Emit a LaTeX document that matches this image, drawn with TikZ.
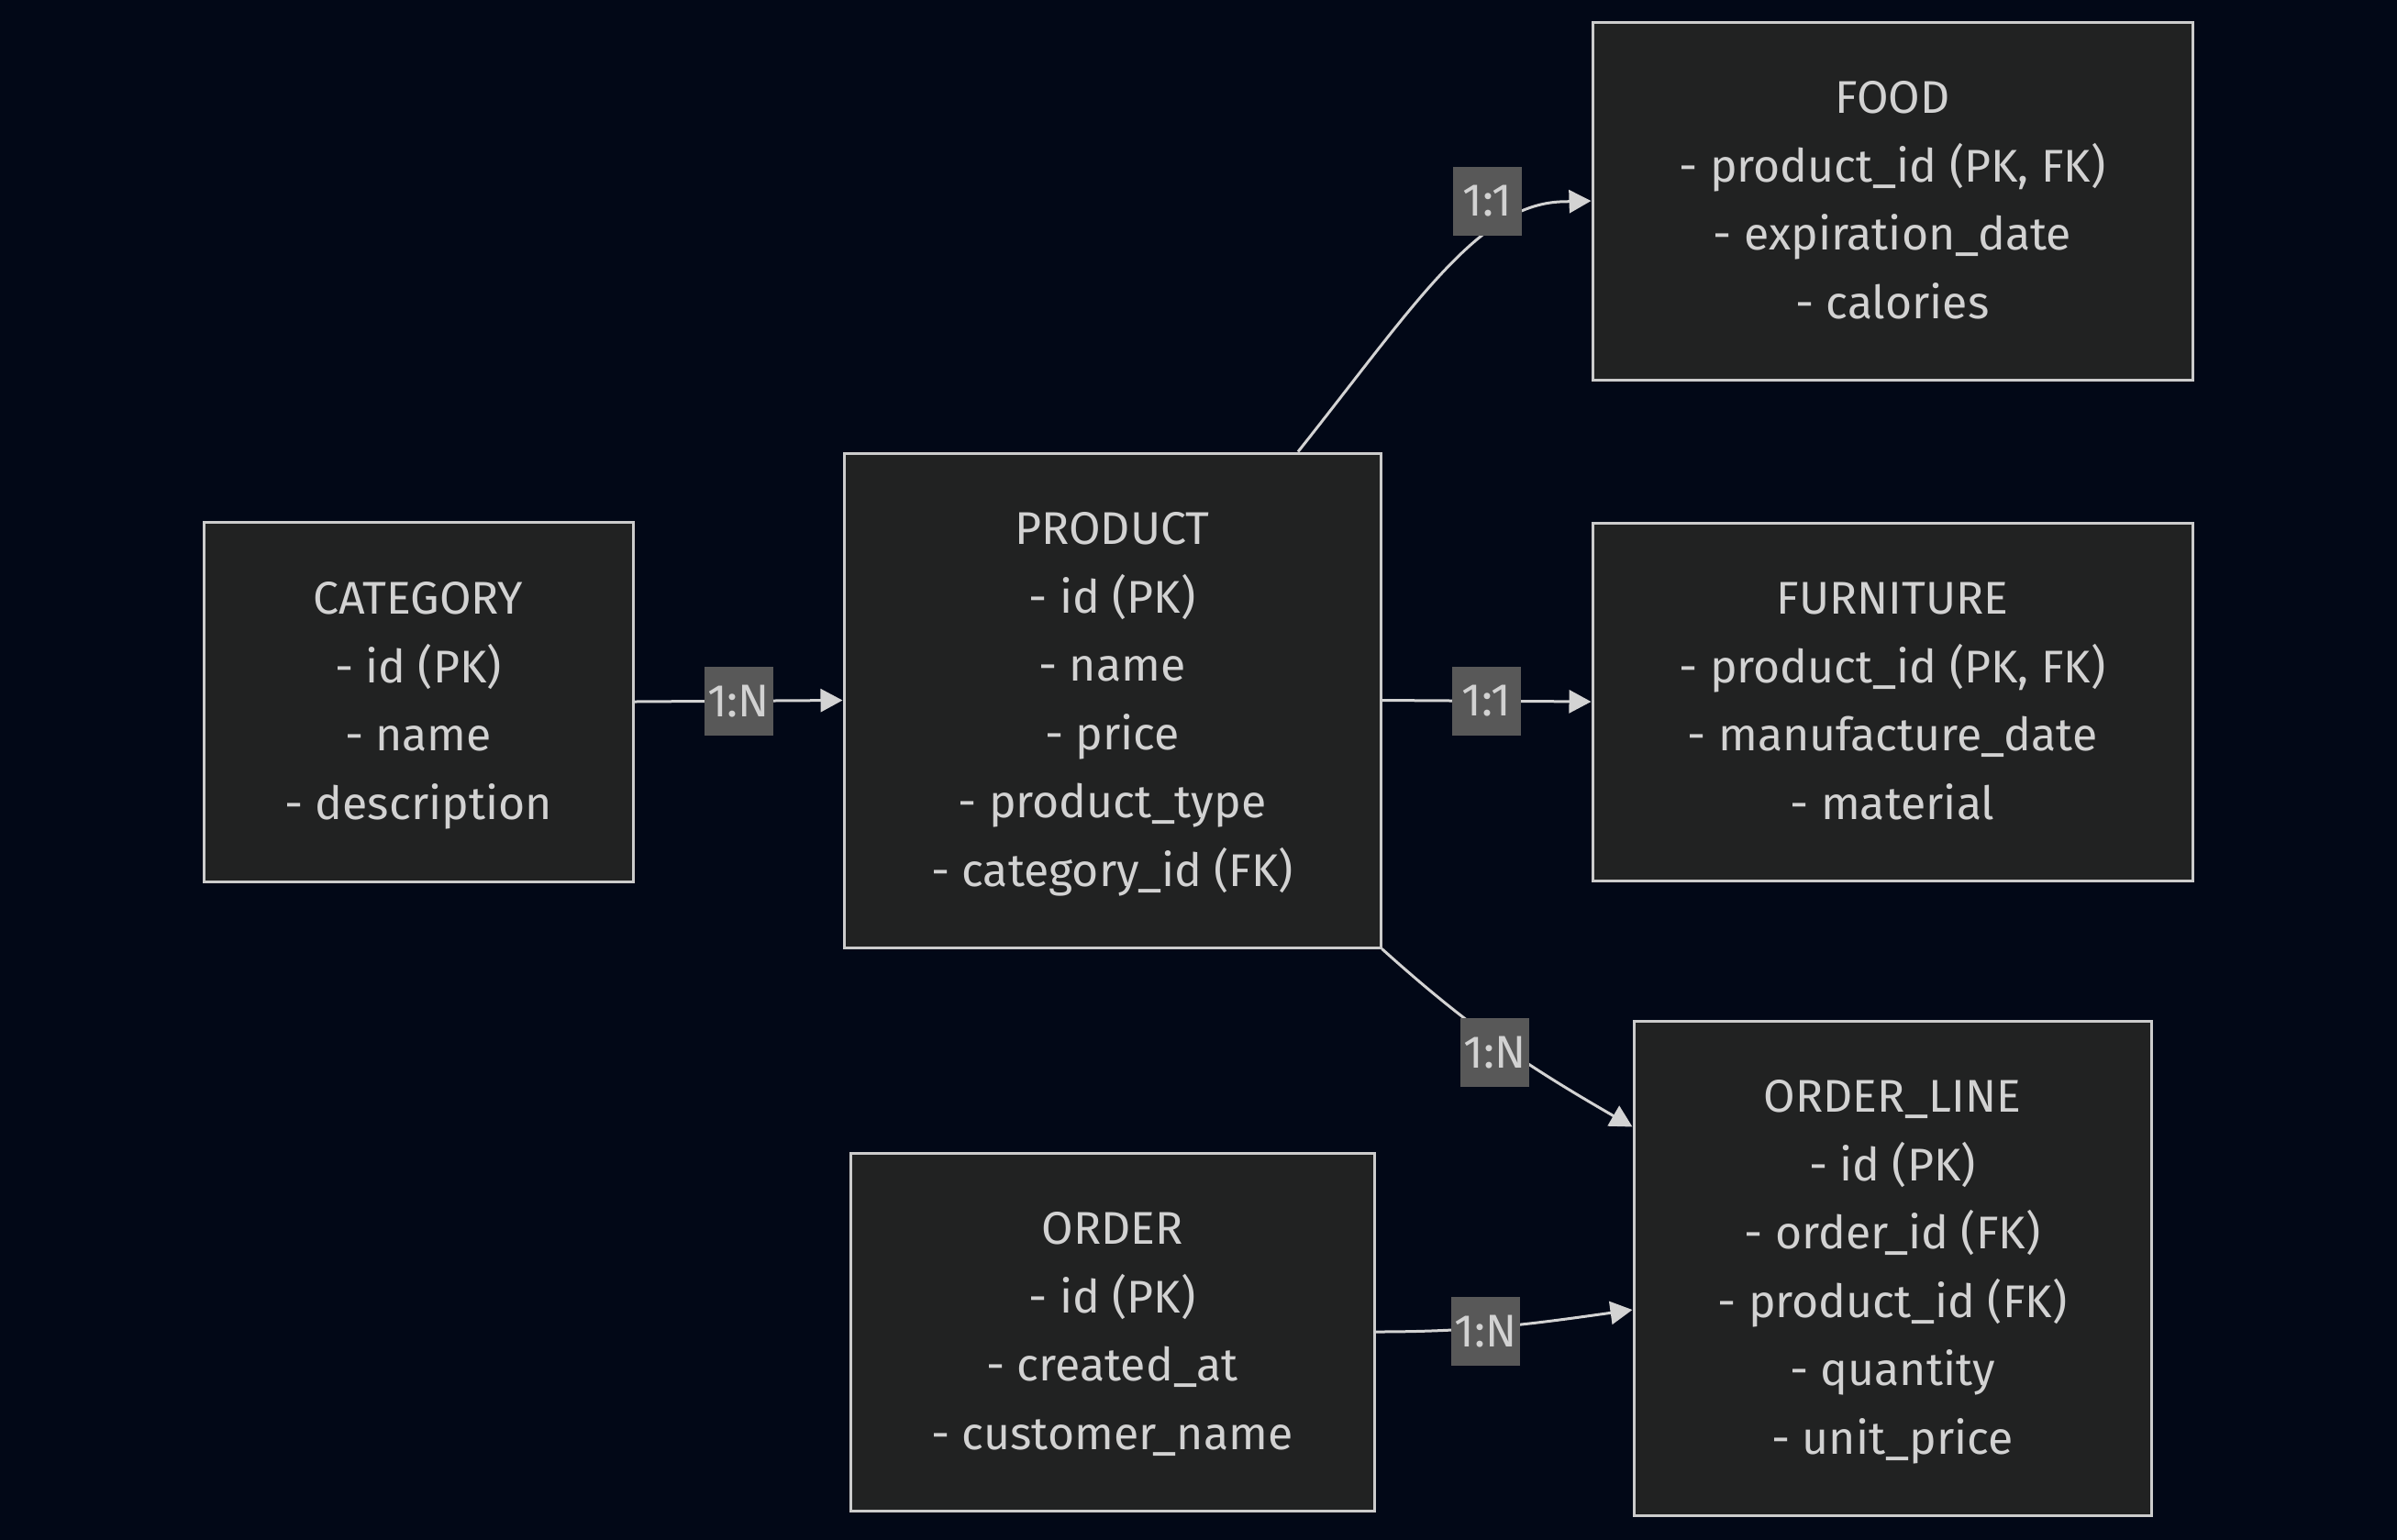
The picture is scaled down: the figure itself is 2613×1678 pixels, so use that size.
\documentclass[tikz,border=0pt]{standalone}
\usepackage{fontspec}
\setmainfont{Fira Sans}
\usetikzlibrary{arrows.meta,calc}
\definecolor{bgc}{RGB}{2,8,23}
\definecolor{boxfill}{RGB}{33,34,34}
\definecolor{boxline}{RGB}{204,204,204}
\definecolor{txt}{RGB}{210,210,210}
\definecolor{labfill}{RGB}{88,88,88}
\definecolor{edgec}{RGB}{211,211,211}
\newcommand{\TopStr}{\rule{0pt}{24.6pt}}
\newcommand{\BotStr}{\rule[-8pt]{0pt}{8pt}}
\begin{document}
\begin{tikzpicture}[x=0.5pt,y=-0.5pt,
  entity/.style={draw=boxline, fill=boxfill, line width=1.5pt, text=txt, align=center,
    inner sep=0pt, font=\fontsize{25}{37.25}\selectfont},
  rel/.style={draw=edgec, line width=1.5pt, -{Triangle[length=12pt,width=12.5pt]}},
  card/.style={fill=labfill, text=txt, minimum width=37.5pt, minimum height=37.5pt,
    inner sep=0pt, font=\fontsize{25}{28}\selectfont}]
\useasboundingbox (0,0) rectangle (2613,1678);
\fill[bgc] (-10,-10) rectangle (2623,1688);

\node[entity, minimum width=234pt, minimum height=196pt] (category) at (456,765)
  {\TopStr CATEGORY\\- id (PK)\\- name\\- description\BotStr};
\node[entity, minimum width=292.5pt, minimum height=269.5pt] (product) at (1212.5,763.5)
  {\TopStr PRODUCT\\- id (PK)\\- name\\- price\\- product\_type\\- category\_id (FK)\BotStr};
\node[entity, minimum width=327pt, minimum height=195pt] (food) at (2063,219)
  {\TopStr FOOD\\- product\_id (PK, FK)\\- expiration\_date\\- calories\BotStr};
\node[entity, minimum width=327pt, minimum height=195pt] (furniture) at (2063,765)
  {\TopStr FURNITURE\\- product\_id (PK, FK)\\- manufacture\_date\\- material\BotStr};
\node[entity, minimum width=282pt, minimum height=269.5pt] (orderline) at (2063,1382.5)
  {\TopStr ORDER\_LINE\\- id (PK)\\- order\_id (FK)\\- product\_id (FK)\\- quantity\\- unit\_price\BotStr};
\node[entity, minimum width=285.5pt, minimum height=195pt] (order) at (1212.5,1452)
  {\TopStr ORDER\\- id (PK)\\- created\_at\\- customer\_name\BotStr};

\coordinate (pf) at ([xshift=101.25pt]product.north);
\coordinate (olA) at ([yshift=-58.5pt]orderline.north west);
\coordinate (olB) at ([yshift=-22.75pt]orderline.west);

\draw[rel] (category.east) -- (product.west);
\draw[rel] (product.east) -- (furniture.west);
\draw[rel] (pf) .. controls (1540,335) and (1610,225) .. (1700,220) -- (food.west);
\draw[rel] (product.south east) to[out=-42,in=150] (olA);
\draw[rel] (order.east) to[out=0,in=188] (olB);

\node[card] (l1) at ($(category.east)!0.5!(product.west)$) {1:N};
\node[card] (l2) at ($(product.east)!0.5!(furniture.west)$) {1:1};
\node[card] (l3) at (1621,219.5) {1:1};
\node[card] (l4) at (1629.5,1147.5) {1:N};
\node[card] (l5) at (1619.5,1451.5) {1:N};
\end{tikzpicture}
\end{document}
